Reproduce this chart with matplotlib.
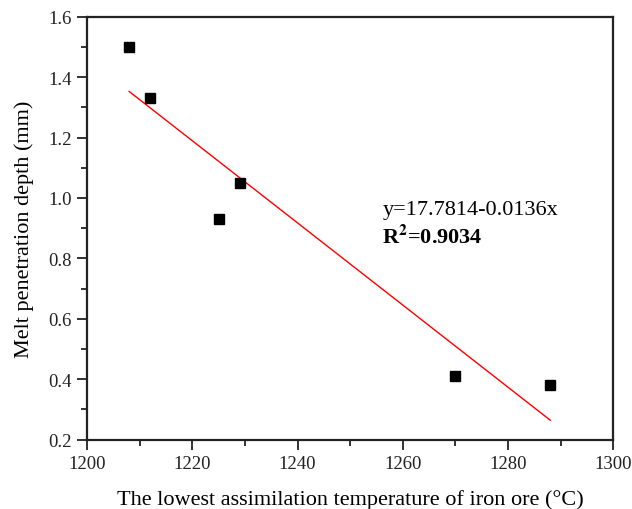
import numpy as np
import matplotlib.pyplot as plt
from matplotlib.ticker import MultipleLocator

# lowest assimilation temperature (°C) vs melt penetration depth (mm)
temp = [1208, 1212, 1225, 1229, 1270, 1288]
depth = [1.50, 1.33, 0.93, 1.05, 0.41, 0.38]

# fitted line as printed on the figure
intercept = 17.7814
slope = -0.0136

plt.rcParams["font.family"] = ["Liberation Serif", "DejaVu Serif"]
plt.rcParams["mathtext.fontset"] = "stix"

fig = plt.figure(figsize=(6.32, 5.10), dpi=100)
ax = fig.add_axes([0.1377, 0.1359, 0.8328, 0.8294])

xfit = np.array([min(temp), max(temp)])
ax.plot(xfit, intercept + slope * xfit, color="red", lw=1.0, zorder=2)
ax.plot(temp, depth, "s", color="black", ms=7.2, zorder=3)

ax.set_xlim(1200, 1300)
ax.set_ylim(0.2, 1.6)
ax.xaxis.set_major_locator(MultipleLocator(20))
ax.xaxis.set_minor_locator(MultipleLocator(10))
ax.yaxis.set_major_locator(MultipleLocator(0.2))
ax.yaxis.set_minor_locator(MultipleLocator(0.1))
ax.yaxis.set_major_formatter(plt.FuncFormatter(lambda v, p: f"{v:.1f}"))

ax.tick_params(which="both", direction="out", width=1.3, labelsize=13.5,
               top=False, right=False, colors="#222222", labelcolor="#222222", pad=4)
ax.tick_params(which="major", length=7)
ax.tick_params(which="minor", length=4)
for s in ax.spines.values():
    s.set_linewidth(1.6)
    s.set_color("#222222")

ax.set_xlabel("The lowest assimilation temperature of iron ore (°C)", fontsize=16, labelpad=12)
ax.set_ylabel("Melt penetration depth (mm)", fontsize=16, labelpad=10)

ax.text(1256.1, 0.947, "y=17.7814-0.0136x", fontsize=16)
ax.text(1256.1, 0.850, r"R$^{\mathbf{2}}$=0.9034", fontsize=16, fontweight="bold")

plt.savefig("out.png", dpi=100)
plt.close(fig)
